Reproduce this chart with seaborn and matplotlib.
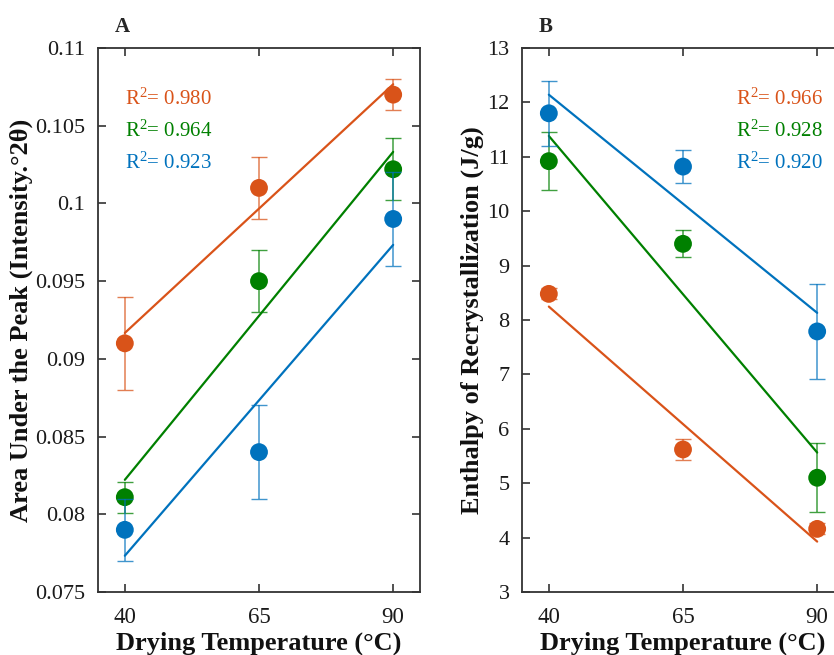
import numpy as np
import pandas as pd
import matplotlib
matplotlib.use("Agg")
import matplotlib.pyplot as plt
import seaborn as sns

# Drying temperatures (°C)
temps = [40, 65, 90]
series_names = ["S1", "S2", "S3"]

# Panel A: area under the peak (Intensity.°2θ), mean and error
area_s1 = [0.091, 0.101, 0.107]
area_s1_err = [0.003, 0.002, 0.001]
area_s2 = [0.0811, 0.095, 0.1022]
area_s2_err = [0.001, 0.002, 0.002]
area_s3 = [0.079, 0.084, 0.099]
area_s3_err = [0.002, 0.003, 0.003]
area_r2 = ["0.980", "0.964", "0.923"]

# Panel B: enthalpy of recrystallization (J/g), mean and error
enth_s1 = [8.48, 5.62, 4.16]
enth_s1_err = [0.1, 0.2, 0.1]
enth_s2 = [10.92, 9.40, 5.10]
enth_s2_err = [0.53, 0.25, 0.63]
enth_s3 = [11.80, 10.82, 7.79]
enth_s3_err = [0.60, 0.31, 0.88]
enth_r2 = ["0.966", "0.928", "0.920"]

area_yticks = [0.075, 0.08, 0.085, 0.09, 0.095, 0.1, 0.105, 0.11]
area_yticklabels = ["0.075", "0.08", "0.085", "0.09", "0.095", "0.1", "0.105", "0.11"]
enth_yticks = list(range(3, 14))

colors = ["#D95319", "#008000", "#0072BD"]

sns.set_theme(style="ticks")
plt.rcParams["font.family"] = ["Liberation Serif", "DejaVu Serif"]
plt.rcParams["mathtext.fontset"] = "custom"
plt.rcParams["mathtext.rm"] = "Liberation Serif"
plt.rcParams["mathtext.it"] = "Liberation Serif"
plt.rcParams["mathtext.bf"] = "Liberation Serif:bold"

fig = plt.figure(figsize=(8.34, 6.55), dpi=100)
axA = fig.add_axes([0.1175, 0.0962, 0.3861, 0.8305])
axB = fig.add_axes([0.6259, 0.0962, 0.3861, 0.8305])

spine_col = "#333333"


def draw_panel(ax, means, errs, r2, ylim, yticks, yticklabels, ylabel, letter,
               r2_xy, ylabel_x):
    frames = []
    for name, m, e in zip(series_names, means, errs):
        frames.append(pd.DataFrame({"temp": temps, "value": m, "err": e,
                                    "series": name}))
    df = pd.concat(frames, ignore_index=True)

    for name, col in zip(series_names, colors):
        sub = df[df.series == name]
        sns.regplot(data=sub, x="temp", y="value", ax=ax, ci=None,
                    scatter=False, truncate=True,
                    line_kws=dict(color=col, lw=1.6, zorder=3))
        sns.scatterplot(data=sub, x="temp", y="value", ax=ax, color=col,
                        s=165, edgecolor="none", zorder=4, legend=False)
        ax.errorbar(sub.temp, sub.value, yerr=sub.err, fmt="none",
                    ecolor=col, elinewidth=1.1, capsize=5.5, capthick=1.0,
                    alpha=0.75, zorder=5)

    ax.set_xlim(35, 95)
    ax.set_ylim(*ylim)
    ax.set_xticks(temps)
    ax.set_xticklabels([str(t) for t in temps])
    ax.set_yticks(yticks)
    ax.set_yticklabels(yticklabels)
    ax.tick_params(direction="in", length=6, width=1.2, color=spine_col,
                   labelsize=16, top=True, right=True, pad=9,
                   labelcolor="#1a1a1a")
    ax.tick_params(axis="x", pad=11, labelsize=16.5)
    for sp in ax.spines.values():
        sp.set_visible(True)
        sp.set_color(spine_col)
        sp.set_linewidth(1.3)
    ax.set_xlabel("Drying Temperature (°C)", fontsize=19, fontweight="bold",
                  va="top", color="#111111")
    ax.xaxis.set_label_coords(0.5, -0.072)
    ax.set_ylabel(ylabel, fontsize=19, fontweight="bold", color="#111111")
    ax.yaxis.set_label_coords(ylabel_x, 0.5)
    ax.text(0.053, 1.03, letter, transform=ax.transAxes, fontsize=15,
            fontweight="bold", ha="left", va="baseline")
    x0, y0 = r2_xy
    for i, (val, col) in enumerate(zip(r2, colors)):
        ax.text(x0, y0 - i * 0.058, "R$^{2}$= " + val,
                transform=ax.transAxes, color=col, fontsize=15,
                ha="left", va="center")


draw_panel(axA, [area_s1, area_s2, area_s3],
           [area_s1_err, area_s2_err, area_s3_err], area_r2,
           (0.075, 0.11), area_yticks, area_yticklabels,
           "Area Under the Peak (Intensity.°2θ)", "A", (0.084, 0.905), -0.202)
draw_panel(axB, [enth_s1, enth_s2, enth_s3],
           [enth_s1_err, enth_s2_err, enth_s3_err], enth_r2,
           (3, 13), enth_yticks, [str(t) for t in enth_yticks],
           "Enthalpy of Recrystallization (J/g)", "B", (0.665, 0.905), -0.118)

fig.savefig("out.png", dpi=100)
